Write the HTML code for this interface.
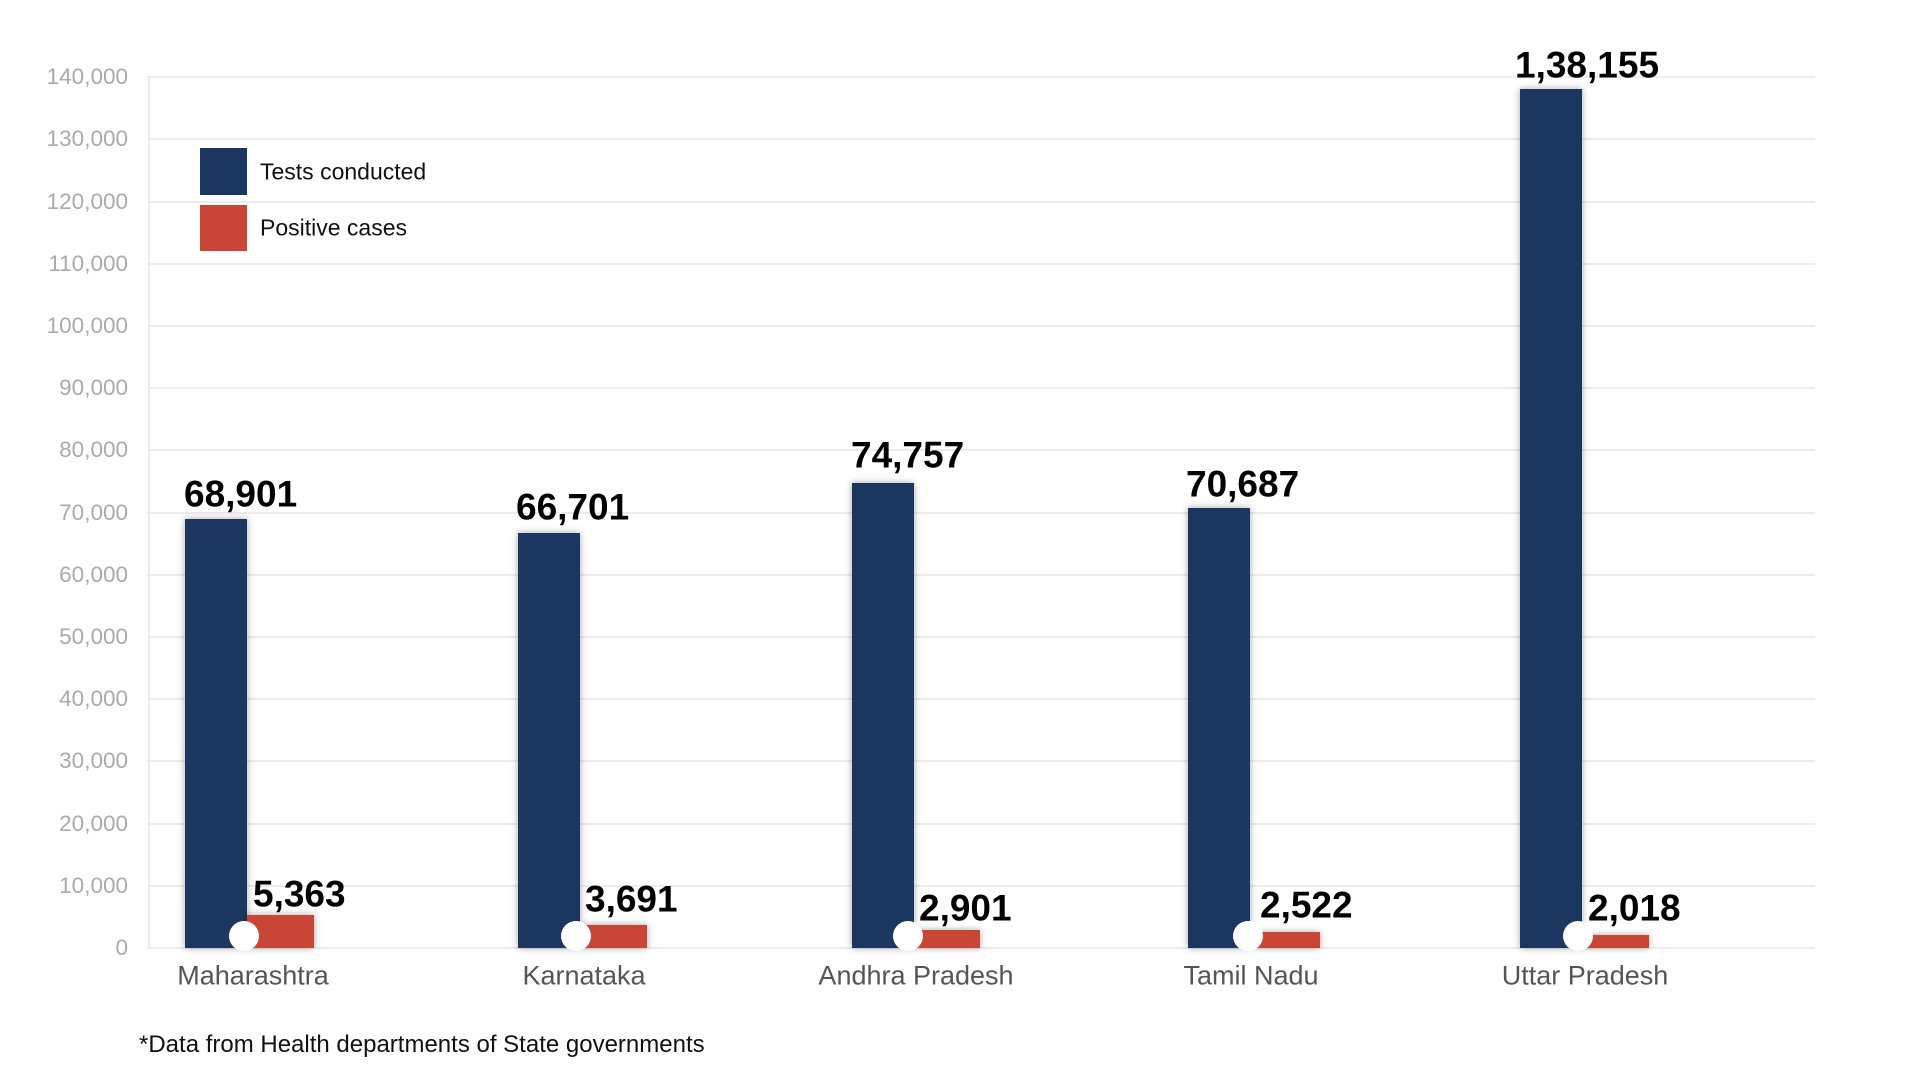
<!DOCTYPE html>
<html><head><meta charset="utf-8"><style>
body{margin:0;width:1920px;height:1080px;background:#fff;position:relative;overflow:hidden;font-family:"Liberation Sans",sans-serif}
.g{position:absolute;left:147px;width:1668px;height:2px;background:#ececec}
.t{position:absolute;right:1792px;font-size:22.5px;color:#aaa;line-height:1;transform:translateY(-50%)}
.b{position:absolute;box-shadow:0 0 7px rgba(0,0,0,.35)}
.n{background:#1b365f;width:62px}
.r{background:#c94536;width:67px}
.c{position:absolute;width:30px;height:30px;border-radius:50%;background:#fff}
.v{position:absolute;font-weight:bold;font-size:37px;color:#000;line-height:1;transform:translateY(-50%)}
.x{position:absolute;font-size:27px;color:#555;line-height:1;transform:translate(-50%,-50%)}
</style></head><body>
<div style="position:absolute;left:148px;top:77px;width:2px;height:871px;background:#ececec"></div>
<div id="grid"></div>
<script>
var h='';for(var i=0;i<=14;i++){var y=948-i*62.2;h+='<div class="g" style="top:'+(y-1)+'px"></div><div class="t" style="top:'+y+'px">'+(i==0?'0':(i*10)+',000')+'</div>';}
document.getElementById('grid').innerHTML=h;
</script>
<div style="position:absolute;left:200px;top:148px;width:47px;height:47px;background:#1b365f"></div>
<div style="position:absolute;left:200px;top:205px;width:47px;height:46px;background:#c94536"></div>
<div style="position:absolute;left:260px;top:172px;font-size:23px;color:#111;transform:translateY(-50%)">Tests conducted</div>
<div style="position:absolute;left:260px;top:228px;font-size:23px;color:#111;transform:translateY(-50%)">Positive cases</div>

<div class="b n" style="left:185px;top:519px;height:429px"></div>
<div class="b r" style="left:247px;top:915px;height:33px"></div>
<div class="c" style="left:229px;top:921px"></div>
<div class="v" style="left:184px;top:494px">68,901</div>
<div class="v" style="left:253px;top:894px">5,363</div>

<div class="b n" style="left:518px;top:533px;height:415px"></div>
<div class="b r" style="left:580px;top:925px;height:23px"></div>
<div class="c" style="left:561px;top:921px"></div>
<div class="v" style="left:516px;top:507px">66,701</div>
<div class="v" style="left:585px;top:899px">3,691</div>

<div class="b n" style="left:852px;top:483px;height:465px"></div>
<div class="b r" style="left:913px;top:930px;height:18px"></div>
<div class="c" style="left:893px;top:921px"></div>
<div class="v" style="left:851px;top:455px">74,757</div>
<div class="v" style="left:919px;top:908px">2,901</div>

<div class="b n" style="left:1188px;top:508px;height:440px"></div>
<div class="b r" style="left:1253px;top:932px;height:16px"></div>
<div class="c" style="left:1233px;top:921px"></div>
<div class="v" style="left:1186px;top:484px">70,687</div>
<div class="v" style="left:1260px;top:905px">2,522</div>

<div class="b n" style="left:1520px;top:89px;height:859px"></div>
<div class="b r" style="left:1582px;top:935px;height:13px"></div>
<div class="c" style="left:1563px;top:921px"></div>
<div class="v" style="left:1515px;top:65px">1,38,155</div>
<div class="v" style="left:1588px;top:908px">2,018</div>

<div class="x" style="left:253px;top:976px">Maharashtra</div>
<div class="x" style="left:584px;top:976px">Karnataka</div>
<div class="x" style="left:916px;top:976px">Andhra Pradesh</div>
<div class="x" style="left:1251px;top:976px">Tamil Nadu</div>
<div class="x" style="left:1585px;top:976px">Uttar Pradesh</div>

<div style="position:absolute;left:139px;top:1045px;font-size:24px;color:#111;transform:translateY(-50%)">*Data from Health departments of State governments</div>
</body></html>
